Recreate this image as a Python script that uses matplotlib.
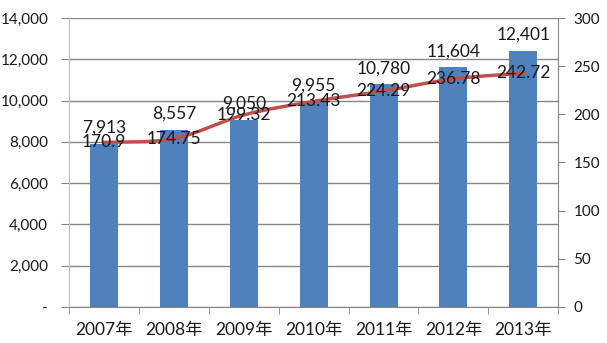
import numpy as np
import matplotlib.pyplot as plt
from matplotlib.path import Path
from matplotlib.patches import PathPatch
from matplotlib.ticker import FuncFormatter

plt.rcParams['font.family'] = ['Lato', 'Noto Sans CJK JP', 'DejaVu Sans']

years = ['2007年', '2008年', '2009年', '2010年', '2011年', '2012年', '2013年']
bar_vals = [7913, 8557, 9050, 9955, 10780, 11604, 12401]
line_vals = [170.9, 174.75, 199.32, 213.43, 224.29, 236.78, 242.72]

bar_color = '#4F81BD'
line_color = '#C0504D'
grid_color = '#868686'
text_color = '#1A1A1A'

fig = plt.figure(figsize=(6.07, 3.43), dpi=100)
ax = fig.add_axes([0.1137, 0.105, 0.806, 0.8425])
x = np.arange(len(years))

ax.bar(x, bar_vals, width=0.4, color=bar_color, zorder=2)
ax.set_xlim(-0.5, len(years) - 0.5)
ax.set_ylim(0, 14000)
ax.set_yticks(np.arange(0, 14001, 2000))
ax.yaxis.set_major_formatter(FuncFormatter(lambda v, p: '-' if v == 0 else f'{int(v):,}'))
ax.grid(axis='y', color=grid_color, linewidth=1, zorder=0)
ax.set_xticks(x)
ax.set_xticklabels(years)
ax.set_xticks(np.arange(-0.5, len(years)), minor=True)
ax.tick_params(axis='x', which='major', length=0, labelsize=12.5, pad=11,
               labelcolor=text_color)
ax.tick_params(axis='x', which='minor', length=5, color=grid_color)
ax.tick_params(axis='y', length=6, color=grid_color, labelsize=11, pad=9,
               labelcolor=text_color)
ax.spines['top'].set_visible(False)
ax.spines['right'].set_visible(False)
ax.spines['left'].set_color('#BFBFBF')
ax.spines['bottom'].set_color(grid_color)

for xi, v in zip(x, bar_vals):
    ax.annotate(f'{v:,}', (xi, v), xytext=(0, 6), textcoords='offset points',
                ha='center', va='bottom', fontsize=12.5, color=text_color, zorder=5)

ax2 = ax.twinx()
ax2.set_ylim(0, 300)
ax2.set_yticks(np.arange(0, 301, 50))
ax2.tick_params(axis='y', length=5, color=grid_color, labelsize=11, pad=6,
                labelcolor=text_color)
for s in ['top', 'left', 'bottom']:
    ax2.spines[s].set_visible(False)
ax2.spines['right'].set_color(grid_color)

# smooth line through the points using Catmull-Rom style Bezier segments
pts = np.column_stack([x, line_vals]).astype(float)
verts = [pts[0]]
codes = [Path.MOVETO]
n = len(pts)
for i in range(n - 1):
    p0 = pts[max(i - 1, 0)]
    p1 = pts[i]
    p2 = pts[i + 1]
    p3 = pts[min(i + 2, n - 1)]
    c1 = p1 + (p2 - p0) / 6
    c2 = p2 - (p3 - p1) / 6
    verts += [c1, c2, p2]
    codes += [Path.CURVE4] * 3
ax2.add_patch(PathPatch(Path(verts, codes), facecolor='none', edgecolor=line_color,
                        linewidth=2.5, capstyle='round', zorder=3))

for xi, v in zip(x, line_vals):
    ax2.text(xi, v, f'{v:g}', ha='center', va='center', fontsize=12.5,
             color=text_color, zorder=5)

fig.savefig('out.png', dpi=100)
